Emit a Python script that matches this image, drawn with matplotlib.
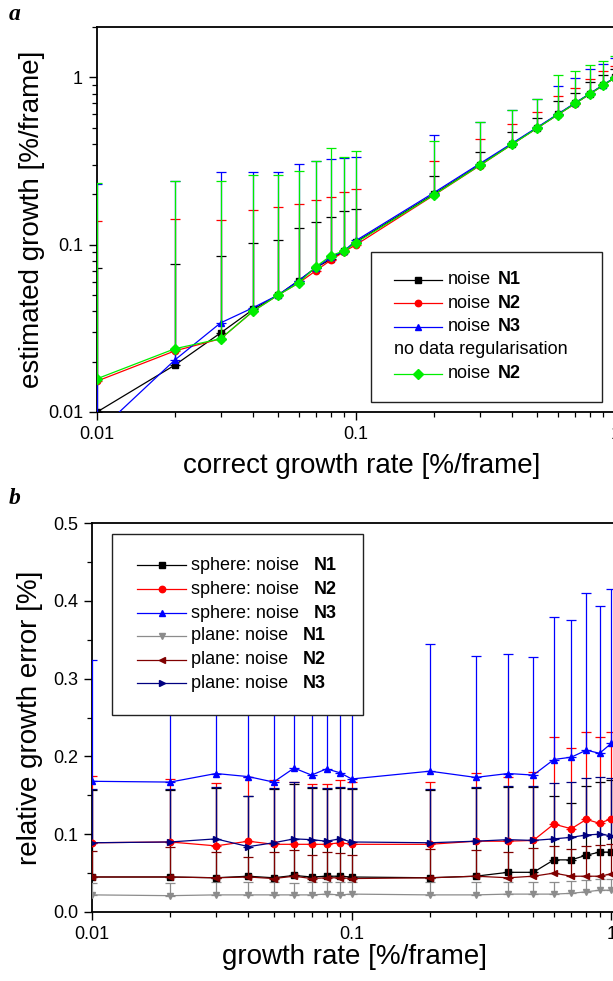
import numpy as np
import matplotlib
matplotlib.use("Agg")
import matplotlib.pyplot as plt
from matplotlib.lines import Line2D
from matplotlib.patches import Rectangle
from matplotlib.ticker import FixedLocator, FixedFormatter, MultipleLocator, LogLocator, NullFormatter

plt.rcParams['font.family'] = ['Liberation Sans', 'DejaVu Sans']

# ---------------- data ----------------
rate = [0.01, 0.02, 0.03, 0.04, 0.05, 0.06, 0.07, 0.08, 0.09, 0.1,
        0.2, 0.3, 0.4, 0.5, 0.6, 0.7, 0.8, 0.9, 1.0]

# panel a: estimated growth and upper end of the error bar
est_n1 = [0.0100, 0.0191, 0.0297, 0.041, 0.050, 0.061, 0.073, 0.082, 0.092, 0.104,
          0.201, 0.300, 0.400, 0.500, 0.600, 0.700, 0.800, 0.900, 1.000]
est_n1_top = [0.0728, 0.077, 0.085, 0.103, 0.106, 0.125, 0.137, 0.147, 0.158, 0.164,
              0.259, 0.360, 0.469, 0.568, 0.718, 0.802, 0.933, 1.04, 1.12]
est_n2 = [0.0153, 0.0232, 0.0274, 0.040, 0.050, 0.059, 0.070, 0.081, 0.091, 0.100,
          0.198, 0.297, 0.398, 0.498, 0.598, 0.697, 0.797, 0.897, 0.997]
est_n2_top = [0.139, 0.143, 0.141, 0.162, 0.169, 0.176, 0.186, 0.194, 0.207, 0.216,
              0.318, 0.426, 0.524, 0.625, 0.769, 0.859, 0.973, 1.09, 1.17]
est_n3 = [0.0075, 0.0205, 0.0341, 0.042, 0.050, 0.061, 0.073, 0.084, 0.092, 0.106,
          0.205, 0.305, 0.404, 0.503, 0.603, 0.703, 0.803, 0.903, 1.003]
est_n3_top = [0.23, 0.241, 0.273, 0.273, 0.273, 0.305, 0.316, 0.327, 0.330, 0.336,
              0.450, 0.538, 0.634, 0.738, 0.883, 0.986, 1.12, 1.21, 1.30]
est_noreg = [0.0158, 0.0239, 0.0274, 0.040, 0.050, 0.059, 0.074, 0.086, 0.092, 0.103,
             0.199, 0.298, 0.398, 0.498, 0.598, 0.698, 0.798, 0.898, 0.998]
est_noreg_top = [0.235, 0.241, 0.241, 0.260, 0.260, 0.277, 0.318, 0.376, 0.332, 0.365,
                 0.414, 0.538, 0.634, 0.738, 1.03, 1.087, 1.18, 1.26, 1.35]

# panel b: relative growth error and upper end of the error bar
sph_n1 = [0.045, 0.045, 0.044, 0.046, 0.044, 0.047, 0.045, 0.046, 0.046, 0.045,
          0.044, 0.046, 0.051, 0.051, 0.067, 0.067, 0.073, 0.077, 0.077]
sph_n1_top = [0.157, 0.157, 0.160, 0.149, 0.158, 0.165, 0.160, 0.158, 0.160, 0.158,
              0.157, 0.160, 0.161, 0.161, 0.149, 0.140, 0.162, 0.167, 0.170]
sph_n2 = [0.089, 0.090, 0.085, 0.091, 0.087, 0.087, 0.087, 0.087, 0.089, 0.087,
          0.087, 0.091, 0.091, 0.092, 0.113, 0.107, 0.119, 0.114, 0.120]
sph_n2_top = [0.175, 0.171, 0.166, 0.174, 0.170, 0.167, 0.164, 0.164, 0.170, 0.167,
              0.167, 0.179, 0.174, 0.180, 0.225, 0.211, 0.231, 0.225, 0.231]
sph_n3 = [0.168, 0.167, 0.178, 0.174, 0.167, 0.185, 0.176, 0.184, 0.179, 0.171,
          0.181, 0.173, 0.178, 0.176, 0.196, 0.199, 0.208, 0.204, 0.217]
sph_n3_top = [0.324, 0.310, 0.310, 0.300, 0.310, 0.320, 0.310, 0.320, 0.310, 0.300,
              0.344, 0.329, 0.332, 0.328, 0.379, 0.375, 0.410, 0.393, 0.415]
pln_n1 = [0.022, 0.021, 0.022, 0.022, 0.022, 0.022, 0.022, 0.023, 0.022, 0.023,
          0.022, 0.022, 0.023, 0.023, 0.023, 0.024, 0.026, 0.028, 0.028]
pln_n1_top = [0.037, 0.037, 0.038, 0.038, 0.038, 0.037, 0.038, 0.039, 0.038, 0.038,
              0.038, 0.039, 0.039, 0.039, 0.039, 0.040, 0.041, 0.042, 0.043]
pln_n2 = [0.045, 0.045, 0.044, 0.045, 0.043, 0.046, 0.043, 0.044, 0.044, 0.043,
          0.044, 0.046, 0.044, 0.046, 0.050, 0.046, 0.046, 0.046, 0.049]
pln_n2_top = [0.078, 0.083, 0.077, 0.071, 0.077, 0.080, 0.073, 0.077, 0.076, 0.073,
              0.081, 0.080, 0.077, 0.082, 0.085, 0.081, 0.085, 0.086, 0.087]
pln_n3 = [0.089, 0.090, 0.094, 0.084, 0.089, 0.094, 0.093, 0.091, 0.094, 0.090,
          0.089, 0.091, 0.093, 0.092, 0.094, 0.096, 0.099, 0.100, 0.098]
pln_n3_top = [0.158, 0.158, 0.161, 0.149, 0.159, 0.167, 0.161, 0.159, 0.161, 0.159,
              0.158, 0.161, 0.162, 0.162, 0.166, 0.167, 0.172, 0.174, 0.172]

x_ticks = [0.01, 0.1, 1]
x_ticklabels = ["0.01", "0.1", "1"]
ya_ticks = [0.01, 0.1, 1]
ya_ticklabels = ["0.01", "0.1", "1"]
yb_ticks = [0.0, 0.1, 0.2, 0.3, 0.4, 0.5]
yb_ticklabels = ["0.0", "0.1", "0.2", "0.3", "0.4", "0.5"]

# ---------------- figure ----------------
W, H = 613, 981
fig = plt.figure(figsize=(W / 100, H / 100), dpi=100)


def px_axes(left, top, right, bottom):
    return fig.add_axes([left / W, 1 - bottom / H, (right - left) / W, (bottom - top) / H])


# axes extend slightly past the right edge of the canvas
ax_a = px_axes(97, 27, 626, 412)
ax_b = px_axes(92, 523, 617, 912)

LW = 0.9
MS = 4.6
CAP = 3.6


def series(ax, y, top, color, marker, z):
    y = np.asarray(y)
    up = np.asarray(top) - y
    ax.errorbar(rate, y, yerr=[np.zeros_like(up), up], color=color, lw=LW,
                elinewidth=LW, capsize=CAP, capthick=LW, marker=marker,
                ms=MS, mec=color, mfc=color, zorder=z)


# panel a
series(ax_a, est_n1, est_n1_top, 'black', 's', 3)
series(ax_a, est_n2, est_n2_top, '#ff0000', 'o', 4)
series(ax_a, est_n3, est_n3_top, '#0000ff', '^', 5)
series(ax_a, est_noreg, est_noreg_top, '#00ee00', 'D', 6)
ax_a.set_xscale('log')
ax_a.set_yscale('log')
ax_a.set_xlim(0.01, 1.1)
ax_a.set_ylim(0.01, 2.0)
ax_a.yaxis.set_major_locator(FixedLocator(ya_ticks))
ax_a.yaxis.set_major_formatter(FixedFormatter(ya_ticklabels))
ax_a.yaxis.set_minor_locator(LogLocator(base=10, subs=np.arange(2, 10)))
ax_a.yaxis.set_minor_formatter(NullFormatter())

# panel b
series(ax_b, sph_n1, sph_n1_top, 'black', 's', 3)
series(ax_b, sph_n2, sph_n2_top, '#ff0000', 'o', 4)
series(ax_b, sph_n3, sph_n3_top, '#0000ff', '^', 5)
series(ax_b, pln_n1, pln_n1_top, '#8c8c8c', 'v', 3)
series(ax_b, pln_n2, pln_n2_top, '#800000', '<', 4)
series(ax_b, pln_n3, pln_n3_top, '#000080', '>', 4)
ax_b.set_xscale('log')
ax_b.set_xlim(0.01, 1.05)
ax_b.set_ylim(0.0, 0.5)
ax_b.yaxis.set_major_locator(FixedLocator(yb_ticks))
ax_b.yaxis.set_major_formatter(FixedFormatter(yb_ticklabels))
ax_b.yaxis.set_minor_locator(MultipleLocator(0.05))

for ax in (ax_a, ax_b):
    ax.xaxis.set_major_locator(FixedLocator(x_ticks))
    ax.xaxis.set_major_formatter(FixedFormatter(x_ticklabels))
    ax.xaxis.set_minor_locator(LogLocator(base=10, subs=np.arange(2, 10)))
    ax.xaxis.set_minor_formatter(NullFormatter())
    ax.tick_params(which='major', direction='out', length=6, width=1.0,
                   labelsize=13, pad=4, top=False, right=False)
    ax.tick_params(which='minor', direction='out', length=3.5, width=0.9,
                   top=False, right=False)
    for s in ax.spines.values():
        s.set_linewidth(1.3)

ax_a.set_xlabel("correct growth rate [%/frame]", fontsize=20, va='center')
ax_a.xaxis.set_label_coords(0.5, (412 - 466) / 385)
ax_a.set_ylabel("estimated growth [%/frame]", fontsize=20, va='center')
ax_a.yaxis.set_label_coords((32 - 97) / 529, 0.5)

ax_b.set_xlabel("growth rate [%/frame]", fontsize=20, va='center')
ax_b.xaxis.set_label_coords(0.5, (912 - 957) / 389)
ax_b.set_ylabel("relative growth error [%]", fontsize=20, va='center')
ax_b.yaxis.set_label_coords((30 - 92) / 525, 0.5)

# panel letters
fig.text(9 / W, 1 - 20 / H, "a", family=['Liberation Serif'], weight='bold',
         style='italic', fontsize=17, va='baseline')
fig.text(9 / W, 1 - 504 / H, "b", family=['Liberation Serif'], weight='bold',
         style='italic', fontsize=17, va='baseline')


# ---------------- legends (figure pixel coordinates) ----------------
def fx(x):
    return x / W


def fy(y):
    return 1 - y / H


def legend_box(left, top, right, bottom):
    fig.add_artist(Rectangle((fx(left), fy(bottom)), (right - left) / W, (bottom - top) / H,
                             transform=fig.transFigure, facecolor='white',
                             edgecolor='#222222', lw=1.0, zorder=10))


def legend_row(y, x0, x1, color, marker, text, bold, tx, bx):
    fig.add_artist(Line2D([fx(x0), fx(x1)], [fy(y), fy(y)], transform=fig.transFigure,
                          color=color, lw=LW, zorder=11))
    fig.add_artist(Line2D([fx((x0 + x1) / 2)], [fy(y)], transform=fig.transFigure,
                          color=color, marker=marker, ms=MS, mec=color, mfc=color,
                          lw=0, zorder=12))
    fig.text(fx(tx), fy(y), text, fontsize=13, va='center', ha='left', zorder=12)
    fig.text(fx(bx), fy(y), bold, fontsize=13, va='center', ha='left',
             weight='bold', zorder=12)


legend_box(371, 252, 602, 402)
legend_row(280, 394, 442, 'black', 's', "noise", "N1", 448, 498)
legend_row(303, 394, 442, '#ff0000', 'o', "noise", "N2", 448, 498)
legend_row(327, 394, 442, '#0000ff', '^', "noise", "N3", 448, 498)
fig.text(fx(394), fy(350), "no data regularisation", fontsize=13, va='center',
         ha='left', zorder=12)
legend_row(374, 394, 442, '#00ee00', 'D', "noise", "N2", 448, 498)

legend_box(112, 534, 363, 715)
legend_row(565, 137, 186, 'black', 's', "sphere: noise", "N1", 191, 314)
legend_row(589, 137, 186, '#ff0000', 'o', "sphere: noise", "N2", 191, 314)
legend_row(613, 137, 186, '#0000ff', '^', "sphere: noise", "N3", 191, 314)
legend_row(636, 137, 186, '#8c8c8c', 'v', "plane: noise", "N1", 191, 303)
legend_row(660, 137, 186, '#800000', '<', "plane: noise", "N2", 191, 303)
legend_row(683, 137, 186, '#000080', '>', "plane: noise", "N3", 191, 303)

fig.savefig("out.png", dpi=100)
